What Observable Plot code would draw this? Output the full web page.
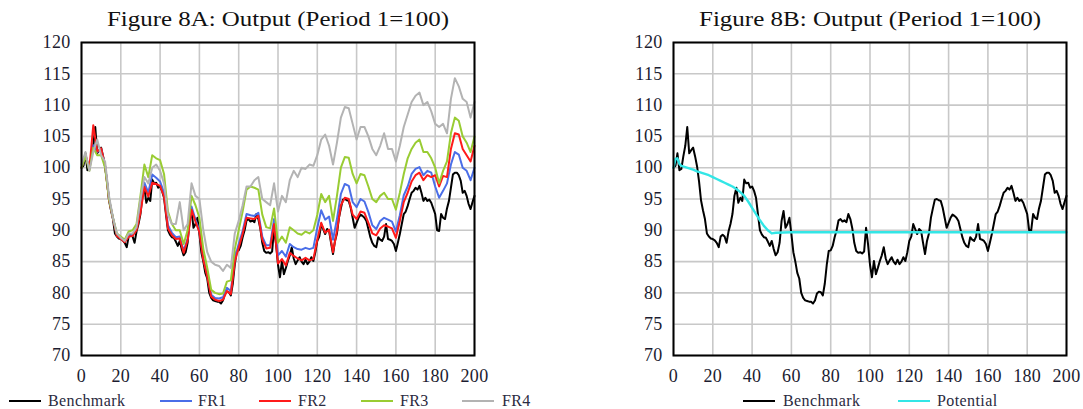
<!DOCTYPE html>
<html><head><meta charset="utf-8">
<script src="https://cdn.jsdelivr.net/npm/d3@7"></script>
<script src="https://cdn.jsdelivr.net/npm/@observablehq/plot@0.6"></script>
<style>
body{margin:0;background:#fff;}
#wrap{position:relative;width:1083px;height:409px;overflow:hidden;font-family:"Liberation Serif","Times New Roman",serif;}
.panel{position:absolute;top:0;width:540px;}
.panel svg{max-width:none !important;}
.leg{position:absolute;top:391px;height:19px;line-height:19px;font-size:16px;letter-spacing:0.4px;color:#2a2a40;white-space:nowrap;}
.legline{position:absolute;top:400px;width:32px;height:2px;}
</style>
</head><body>
<div id="wrap"></div>
<script>
// ---- data ----
const xTicks = [0, 20, 40, 60, 80, 100, 120, 140, 160, 180, 200];
const yTicks = [70, 75, 80, 85, 90, 95, 100, 105, 110, 115, 120];
const titleA = "Figure 8A: Output (Period 1=100)";
const titleB = "Figure 8B: Output (Period 1=100)";
const seriesNamesA = ["Benchmark", "FR1", "FR2", "FR3", "FR4"];
const seriesNamesB = ["Benchmark", "Potential"];

// benchmark, every period 0..200
const benchmark = [
100.0,100.3,102.3,99.6,99.8,101.8,103.5,106.5,102.3,102.8,
103.2,101.8,100.2,97.8,94.8,93.2,91.8,89.5,89.0,88.7,
88.6,88.4,88.0,87.3,89.0,89.3,89.0,88.0,89.8,91.0,
92.6,95.5,96.8,94.4,95.2,94.7,98.1,97.5,97.6,96.8,
97.0,96.3,95.2,92.5,90.0,89.3,88.9,88.8,88.2,87.5,
88.3,87.0,86.0,86.5,88.0,91.5,93.1,90.4,91.0,92.0,
89.4,86.5,85.0,83.2,82.3,80.0,79.2,78.8,78.7,78.6,
78.6,78.3,78.8,79.9,80.2,80.1,79.6,81.5,84.5,86.7,
86.8,87.5,88.9,90.0,91.6,91.8,91.4,91.6,91.3,92.6,
91.8,90.3,88.0,86.7,86.4,86.5,86.3,86.6,90.4,87.8,
84.5,82.5,85.1,83.0,84.0,85.1,86.0,87.3,85.5,84.6,
85.2,85.7,85.0,84.6,85.3,84.6,85.0,85.7,85.1,86.5,
88.3,89.0,91.0,90.2,89.4,90.2,89.9,88.0,86.2,88.3,
89.5,92.0,93.5,94.9,95.0,94.8,94.7,93.6,92.0,90.4,
91.2,92.0,92.5,92.3,92.0,91.5,90.2,88.9,88.0,87.5,
87.3,88.9,88.5,88.3,89.0,91.0,88.6,88.5,88.3,87.8,
86.7,88.0,89.4,91.0,92.6,93.0,93.9,95.0,96.0,96.3,
96.8,96.5,97.1,96.0,94.7,95.2,94.7,94.9,94.4,93.5,
92.6,90.0,89.9,92.6,92.0,91.8,93.5,94.7,96.8,98.9,
99.2,99.2,98.8,97.9,96.0,96.3,95.5,94.2,93.4,94.5,
95.5];
const periods = d3.range(0, 201);

// FR series, every second period 0..200
const periodsEven = d3.range(0, 201, 2);
const fr1 = [
100.0,102.0,99.9,103.6,102.5,103.0,100.3,95.0,92.0,89.2,
88.7,88.2,89.1,89.3,90.3,93.4,97.6,96.0,98.9,98.4,
97.8,96.0,90.8,89.6,88.9,89.0,86.7,88.7,93.8,91.7,
90.0,85.6,82.9,79.7,79.2,79.1,79.3,80.8,80.3,85.5,
87.8,89.9,92.6,92.4,92.3,92.8,89.0,87.6,87.6,91.8,
86.0,86.7,85.8,87.8,87.3,87.0,86.9,87.2,87.0,87.2,
90.4,93.2,91.7,92.2,88.5,91.8,95.8,97.4,97.1,94.5,
93.7,95.0,94.6,92.9,90.8,90.2,91.5,92.0,91.7,91.4,
89.8,92.4,95.6,97.0,99.0,99.8,100.1,98.8,99.5,99.2,
97.0,95.2,96.3,97.5,100.5,102.5,102.1,100.0,99.5,98.0,
100.0];
const fr2 = [
100.0,102.1,99.8,106.8,102.6,103.1,100.3,94.9,91.9,89.1,
88.6,88.1,89.0,89.1,90.0,92.8,96.9,95.4,97.6,97.4,
97.1,95.4,90.3,89.2,88.6,88.7,86.4,88.4,93.3,91.4,
89.7,85.3,82.6,79.4,78.9,78.7,78.9,80.3,79.8,85.0,
87.2,89.4,92.0,91.9,91.8,92.3,88.5,87.1,87.2,91.0,
84.7,85.4,84.4,86.4,85.9,85.5,85.2,85.6,85.2,85.4,
88.5,91.2,89.6,90.1,86.5,89.9,94.0,95.2,95.0,92.5,
91.8,93.0,92.8,91.2,89.5,89.2,90.3,90.8,90.6,90.3,
88.8,91.5,94.5,96.0,97.8,98.8,99.2,98.0,98.8,98.5,
98.8,97.0,98.7,98.5,103.0,105.5,105.3,103.0,102.0,101.0,
103.5];
const fr3 = [
100.0,101.8,99.5,103.2,102.0,102.0,100.0,95.0,92.0,89.5,
89.0,88.5,89.8,90.0,91.0,95.5,100.5,98.5,102.0,101.5,
101.2,99.0,93.0,91.0,90.0,90.0,87.8,90.0,95.5,94.0,
92.0,87.0,84.0,80.5,80.0,79.8,79.9,81.8,82.0,87.0,
90.0,93.0,96.5,97.0,96.8,96.5,92.5,90.5,90.3,93.5,
88.0,89.0,88.0,90.5,90.0,89.5,89.3,89.8,89.5,90.0,
92.5,95.8,94.5,95.5,91.5,95.5,100.0,101.7,101.6,99.0,
97.5,99.0,98.8,97.0,95.0,94.5,95.5,96.0,95.0,95.0,
93.3,96.0,99.0,101.5,103.0,104.0,104.5,102.5,102.5,101.5,
100.0,97.5,99.5,101.0,105.5,108.0,107.5,105.0,104.0,102.5,
105.0];
const fr4 = [
100.5,102.5,99.5,102.5,104.5,102.0,101.0,95.5,92.0,89.5,
88.8,88.3,89.5,89.5,90.5,95.0,98.5,97.5,100.0,100.5,
99.5,97.5,92.5,91.0,91.0,94.5,90.0,91.0,97.5,95.5,
95.0,90.0,86.5,85.0,84.5,84.3,83.5,84.5,84.0,89.5,
91.5,94.0,97.0,97.0,98.0,98.5,95.0,94.5,94.0,97.5,
93.0,95.5,94.5,98.0,99.5,98.5,100.0,99.8,100.5,100.3,
102.0,104.5,105.3,103.5,100.5,104.0,108.0,109.7,109.5,107.0,
104.5,106.5,106.5,105.0,103.0,102.0,103.5,105.5,103.0,103.0,
101.0,103.5,106.5,108.5,110.5,111.5,112.0,110.0,110.5,109.0,
107.0,106.5,107.0,105.5,111.0,114.3,113.0,111.0,110.5,108.0,
110.5];

// potential output (smooth), at its own periods
const potentialPeriods = [0,1,2,3,4,6,8,10,12,14,16,18,20,22,24,26,28,30,32,34,36,38,40,42,44,46,48,50,52,60,80,100,120,140,160,180,200];
const potential = [100.0,101.4,101.5,100.6,100.3,100.1,99.9,99.7,99.4,99.2,99.0,98.8,98.5,98.2,97.9,97.6,97.3,97.0,96.6,96.1,95.5,94.6,93.6,92.6,91.6,90.7,90.0,89.5,89.6,89.7,89.7,89.7,89.7,89.7,89.7,89.7,89.7];

const colors = {Benchmark:"#000000", FR1:"#4a6ee8", FR2:"#ff1a1a", FR3:"#99cc33", FR4:"#b3b3b3", Potential:"#33e6e6"};

// ---- drawing ----
const wrap = document.getElementById("wrap");

function makePanel(title, lines, left) {
  const chart = Plot.plot({
    width: 540, height: 390,
    marginLeft: 81, marginRight: 66, marginTop: 42, marginBottom: 35,
    style: {fontFamily: "'Liberation Serif', 'Times New Roman', serif", fontSize: "18px", color: "#1c1c30", background: "white", letterSpacing: "0.3px", maxWidth: "none"},
    x: {domain: [0, 200]},
    y: {domain: [70, 120]},
    marks: [
      Plot.gridX(xTicks, {stroke: "#c8c8c8", strokeOpacity: 1, strokeWidth: 1.6}),
      Plot.gridY(yTicks, {stroke: "#c8c8c8", strokeOpacity: 1, strokeWidth: 1.6}),
      ...lines.map(s => Plot.line(s.values, {x: (d, i) => s.x[i], y: d => d, stroke: colors[s.name], strokeWidth: s.name === "Potential" ? 2.4 : 2})),
      Plot.frame({stroke: "#000", strokeWidth: 2}),
      Plot.axisX(xTicks, {tickSize: 0, tickPadding: 14, fontSize: 18}),
      Plot.axisY(yTicks, {tickSize: 0, tickPadding: 11, fontSize: 18}),
      Plot.text([title], {frameAnchor: "top", dy: -23, fontSize: 21, lineAnchor: "middle", fill: "#111", className: "ttl"})
    ]
  });
  const div = document.createElement("div");
  div.className = "panel";
  div.style.left = left + "px";
  div.appendChild(chart);
  wrap.appendChild(div);
  chart.querySelectorAll(".ttl text").forEach(t => {
    t.setAttribute("textLength", "342");
    t.setAttribute("lengthAdjust", "spacingAndGlyphs");
    t.style.letterSpacing = "0px";
  });
}

makePanel(titleA, [
  {name: "Benchmark", x: periods, values: benchmark},
  {name: "FR1", x: periodsEven, values: fr1},
  {name: "FR2", x: periodsEven, values: fr2},
  {name: "FR3", x: periodsEven, values: fr3},
  {name: "FR4", x: periodsEven, values: fr4}
], 0);

makePanel(titleB, [
  {name: "Benchmark", x: periods, values: benchmark},
  {name: "Potential", x: potentialPeriods, values: potential}
], 592);

function legend(names, linePos, textPos) {
  names.forEach((n, i) => {
    const l = document.createElement("div");
    l.className = "legline";
    l.style.left = linePos[i] + "px";
    l.style.background = colors[n];
    wrap.appendChild(l);
    const t = document.createElement("div");
    t.className = "leg";
    t.style.left = textPos[i] + "px";
    t.textContent = n;
    wrap.appendChild(t);
  });
}
legend(seriesNamesA, [9, 160, 259, 361, 462], [48, 198, 298, 400, 502]);
legend(seriesNamesB, [743, 898], [783, 937]);
</script>
</body></html>
